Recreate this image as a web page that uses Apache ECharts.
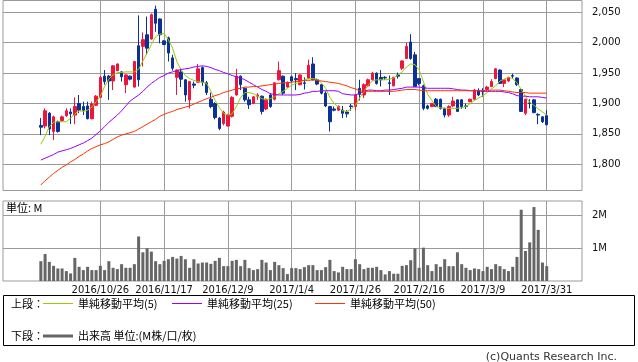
<!DOCTYPE html>
<html><head><meta charset="utf-8">
<script src="https://cdn.jsdelivr.net/npm/echarts@6/dist/echarts.min.js"></script>
<style>html,body{margin:0;padding:0;background:#fff}#c{width:638px;height:362px}</style>
</head><body><div id="c"></div>
<script>
const dates = [
'2016/10/5','2016/10/6','2016/10/7','2016/10/11','2016/10/12','2016/10/13','2016/10/14','2016/10/17','2016/10/18','2016/10/19','2016/10/20','2016/10/21','2016/10/24','2016/10/25','2016/10/26','2016/10/27','2016/10/28','2016/10/31',
'2016/11/1','2016/11/2','2016/11/4','2016/11/7','2016/11/8','2016/11/9','2016/11/10','2016/11/11','2016/11/14','2016/11/15','2016/11/16','2016/11/17','2016/11/18','2016/11/21','2016/11/22','2016/11/24','2016/11/25','2016/11/28','2016/11/29','2016/11/30',
'2016/12/1','2016/12/2','2016/12/5','2016/12/6','2016/12/7','2016/12/8','2016/12/9','2016/12/12','2016/12/13','2016/12/14','2016/12/15','2016/12/16','2016/12/19','2016/12/20','2016/12/21','2016/12/22','2016/12/26','2016/12/27','2016/12/28','2016/12/29','2016/12/30',
'2017/1/4','2017/1/5','2017/1/6','2017/1/10','2017/1/11','2017/1/12','2017/1/13','2017/1/16','2017/1/17','2017/1/18','2017/1/19','2017/1/20','2017/1/23','2017/1/24','2017/1/25','2017/1/26','2017/1/27','2017/1/30','2017/1/31',
'2017/2/1','2017/2/2','2017/2/3','2017/2/6','2017/2/7','2017/2/8','2017/2/9','2017/2/10','2017/2/13','2017/2/14','2017/2/15','2017/2/16','2017/2/17','2017/2/20','2017/2/21','2017/2/22','2017/2/23','2017/2/24','2017/2/27','2017/2/28',
'2017/3/1','2017/3/2','2017/3/3','2017/3/6','2017/3/7','2017/3/8','2017/3/9','2017/3/10','2017/3/13','2017/3/14','2017/3/15','2017/3/16','2017/3/17','2017/3/21','2017/3/22','2017/3/23','2017/3/24','2017/3/27','2017/3/28','2017/3/29','2017/3/30','2017/3/31'];

const opens = [1864,1863,1884,1854,1870,1872,1880,1886,1881,1900,1895,1896,1875,1897,1910,1945,1945,1937,1954,1952,
1931,1945,1927,1995,1994,2013,2006,2055,2039,2003,2008,1975,1943,1952,1939,1906,1932,1935,1959,1934,
1907,1900,1876,1867,1863,1879,1914,1945,1925,1906,1900,1912,1912,1891,1914,1907,1939,1945,1927,1944,
1941,1931,1934,1941,1965,1939,1931,1917,1895,1891,1889,1889,1886,1896,1895,1925,1914,1929,1939,1950,
1943,1943,1934,1929,1947,1958,1974,2001,1980,1941,1929,1896,1895,1907,1907,1892,1881,1896,1906,1906,
1896,1903,1907,1921,1921,1923,1928,1941,1955,1933,1937,1946,1942,1923,1884,1901,1906,1882,1878,1880];
const highs = [1876,1892,1886,1880,1872,1880,1892,1892,1910,1914,1903,1903,1903,1914,1945,1955,1947,1963,1966,1953,
1948,1946,1970,2045,2017,2043,2048,2061,2040,2004,2010,1980,1956,1958,1940,1937,1936,1965,1961,1937,
1918,1902,1878,1888,1883,1912,1957,1946,1926,1911,1912,1917,1913,1908,1917,1935,1969,1946,1936,1946,
1950,1948,1943,1972,1976,1941,1932,1920,1896,1895,1897,1896,1889,1899,1915,1939,1933,1941,1952,1951,
1955,1945,1946,1944,1951,1971,2000,2014,1985,1942,1931,1898,1901,1909,1908,1893,1897,1911,1907,1907,
1900,1908,1924,1925,1925,1929,1940,1958,1956,1940,1944,1949,1943,1925,1908,1907,1907,1884,1879,1889];
const lows = [1848,1859,1848,1840,1852,1870,1878,1866,1866,1884,1881,1874,1874,1896,1909,1931,1906,1922,1953,1936,
1917,1938,1926,1928,1961,1980,2005,2018,1999,1996,1969,1954,1914,1927,1903,1892,1925,1934,1929,1914,
1892,1874,1856,1864,1862,1877,1913,1922,1903,1891,1899,1906,1882,1889,1893,1905,1938,1914,1926,1936,
1922,1930,1923,1940,1938,1930,1915,1894,1854,1887,1888,1876,1877,1888,1889,1905,1909,1927,1938,1931,
1928,1939,1914,1928,1941,1955,1973,1972,1927,1930,1889,1890,1894,1894,1890,1877,1878,1894,1886,1891,
1891,1902,1905,1912,1911,1921,1927,1940,1932,1927,1935,1941,1929,1886,1881,1892,1884,1866,1868,1864];
const closes = [1861,1888,1858,1878,1854,1878,1888,1883,1895,1889,1889,1875,1899,1912,1943,1936,1937,1962,1965,1944,
1947,1940,1969,1939,2005,1991,2046,2032,2013,1997,1983,1958,1955,1940,1914,1936,1930,1957,1935,1918,
1895,1877,1859,1886,1881,1910,1945,1931,1906,1898,1911,1914,1887,1907,1895,1934,1954,1917,1935,1937,
1939,1947,1933,1963,1939,1932,1917,1896,1870,1889,1895,1884,1883,1895,1914,1915,1931,1939,1950,1933,
1939,1942,1933,1943,1945,1970,1994,1974,1928,1933,1892,1892,1900,1895,1892,1881,1895,1904,1887,1895,
1895,1907,1922,1914,1920,1927,1936,1957,1933,1939,1943,1945,1931,1887,1907,1900,1885,1881,1870,1865];
const volumes = [0.60,0.82,0.58,0.46,0.38,0.38,0.30,0.23,0.70,0.43,0.33,0.43,0.33,0.33,0.46,0.33,0.60,0.40,0.36,0.51,
0.40,0.40,0.51,1.35,0.87,0.99,0.89,0.60,0.51,0.61,0.66,0.73,0.68,0.76,0.66,0.40,0.66,0.53,0.56,0.56,
0.52,0.61,0.70,0.45,0.45,0.61,0.64,0.45,0.64,0.39,0.33,0.36,0.64,0.56,0.33,0.58,0.48,0.39,0.21,0.39,
0.39,0.36,0.42,0.48,0.48,0.33,0.33,0.42,0.64,0.30,0.26,0.43,0.36,0.36,0.66,0.51,0.36,0.40,0.40,0.43,
0.33,0.20,0.30,0.22,0.22,0.46,0.48,0.63,0.99,0.40,1.01,0.48,0.30,0.51,0.43,0.66,0.45,0.45,0.87,0.51,
0.40,0.33,0.38,0.36,0.30,0.43,0.36,0.51,0.45,0.36,0.30,0.43,0.73,2.16,0.91,1.17,2.24,1.55,0.56,0.45];
const ma5 = [1833,1846,1862,1869,1870,1870,1870,1876,1883,1888,1887,1889,1894,1903,1912,1928,1940,1947,1951,1951,
1952,1952,1952,1956,1970,1983,1997,2010,2014,2015,2005,1991,1969,1955,1946,1941,1938,1936,1935,1933,
1920,1905,1893,1884,1881,1883,1895,1910,1918,1918,1916,1912,1908,1906,1908,1911,1916,1920,1925,1930,
1933,1935,1939,1941,1941,1940,1934,1925,1910,1900,1894,1888,1887,1891,1897,1909,1920,1930,1937,1939,
1939,1939,1940,1942,1947,1952,1960,1965,1964,1955,1936,1915,1905,1895,1893,1892,1892,1892,1892,1893,
1895,1900,1905,1909,1913,1918,1924,1929,1937,1940,1943,1941,1934,1923,1912,1902,1897,1891,1886,1881];
const ma25 = [1807,1810,1813,1816,1820,1822,1824,1826,1829,1832,1835,1839,1843,1849,1855,1862,1869,1875,1881,1888,
1896,1904,1909,1914,1920,1927,1933,1938,1943,1946,1950,1952,1954,1956,1957,1958,1960,1961,1962,1961,
1959,1956,1954,1951,1949,1946,1944,1942,1939,1935,1931,1927,1923,1920,1916,1915,1914,1914,1914,1914,
1914,1915,1917,1918,1920,1920,1921,1921,1921,1921,1920,1916,1915,1914,1914,1917,1920,1922,1922,1921,
1921,1922,1922,1923,1924,1925,1927,1927,1927,1927,1926,1925,1925,1925,1925,1925,1925,1924,1923,1922,
1922,1921,1921,1921,1920,1920,1920,1920,1920,1919,1918,1916,1913,1912,1912,1911,1911,1911,1910,1909];
const ma50 = [1766,1773,1779,1785,1790,1795,1799,1804,1808,1813,1817,1822,1826,1829,1832,1834,1837,1841,1845,1848,
1850,1852,1854,1858,1862,1866,1870,1874,1879,1882,1885,1887,1890,1892,1894,1896,1899,1902,1905,1908,
1910,1913,1915,1918,1920,1922,1924,1925,1927,1927,1928,1928,1929,1930,1931,1932,1933,1934,1934,1935,
1936,1937,1938,1938,1939,1938,1937,1936,1935,1934,1933,1931,1929,1926,1924,1921,1920,1920,1920,1920,
1920,1920,1920,1920,1921,1922,1923,1923,1923,1922,1921,1921,1921,1921,1921,1921,1921,1921,1921,1921,
1921,1921,1921,1921,1921,1921,1922,1922,1922,1921,1920,1919,1918,1918,1918,1917,1917,1917,1917,1917];
const dateTicks = ['2016/10/26','2016/11/17','2016/12/9','2017/1/4','2017/1/26','2017/2/16','2017/3/9','2017/3/31'];
const priceTicks = [1800,1850,1900,1950,2000,2050];
const volumeTicks = [1,2];

const tickIdx = dateTicks.map(d => dates.indexOf(d));
const idx = dates.map((d, i) => i);
const fmt = v => String(v).replace(/\B(?=(\d{3})+(?!\d))/g, ',');

const GRID_C = '#9a9a9a';
const xMin = -8.9, xMax = 127.3;
const ff = 'DejaVu Sans';
const cjk = '"Noto Sans CJK JP", sans-serif';

function xAxisDef(gridIndex, showLabel) {
  return {
    type: 'value', gridIndex, min: xMin, max: xMax,
    axisLine: {show: false},
    axisTick: {show: false, customValues: tickIdx},
    splitLine: {show: true, lineStyle: {color: GRID_C, width: 1}},
    axisLabel: {show: showLabel, customValues: tickIdx, formatter: v => dates[Math.round(v)] || '',
      color: '#111', fontSize: 10, fontFamily: ff, margin: 4}
  };
}

const chart = echarts.init(document.getElementById('c'), null, {renderer: 'canvas'});
chart.setOption({
  animation: false,
  backgroundColor: '#fff',
  grid: [
    {left: 3, top: 0.5, width: 579, height: 190, show: true, borderColor: GRID_C, borderWidth: 1, backgroundColor: 'transparent'},
    {left: 3, top: 201, width: 579, height: 80, show: true, borderColor: GRID_C, borderWidth: 1, backgroundColor: 'transparent'}
  ],
  xAxis: [xAxisDef(0, false), xAxisDef(1, true)],
  yAxis: [
    {type: 'value', gridIndex: 0, position: 'right', min: 1756.9, max: 2069.4,
      axisLine: {show: false},
      axisTick: {show: true, length: 5, customValues: priceTicks, lineStyle: {color: GRID_C}},
      splitLine: {show: true, lineStyle: {color: GRID_C}},
      axisLabel: {customValues: priceTicks, formatter: v => fmt(v), color: '#111', fontSize: 10, fontFamily: ff, margin: 10}},
    {type: 'value', gridIndex: 1, position: 'right', min: 0, max: 2.424,
      axisLine: {show: false},
      axisTick: {show: true, length: 5, customValues: volumeTicks, lineStyle: {color: GRID_C}},
      splitLine: {show: true, lineStyle: {color: GRID_C}},
      axisLabel: {customValues: volumeTicks, formatter: v => v + 'M', color: '#111', fontSize: 10, fontFamily: ff, margin: 10}}
  ],
  series: [
    {type: 'candlestick', xAxisIndex: 0, yAxisIndex: 0, barWidth: 3,
      data: idx.map(i => [i, opens[i], closes[i], lows[i], highs[i]]),
      encode: {x: 0, y: [1, 2, 3, 4]},
      itemStyle: {color: '#f0143c', borderColor: '#f0143c', color0: '#0a3296', borderColor0: '#0a3296', borderWidth: 1}},
    {type: 'line', xAxisIndex: 0, yAxisIndex: 0, data: idx.map(i => [i, ma5[i]]), showSymbol: false,
      lineStyle: {color: '#99cc00', width: 1}, z: 3},
    {type: 'line', xAxisIndex: 0, yAxisIndex: 0, data: idx.map(i => [i, ma25[i]]), showSymbol: false,
      lineStyle: {color: '#9900ff', width: 1}, z: 3},
    {type: 'line', xAxisIndex: 0, yAxisIndex: 0, data: idx.map(i => [i, ma50[i]]), showSymbol: false,
      lineStyle: {color: '#ff3300', width: 1}, z: 3},
    {type: 'bar', xAxisIndex: 1, yAxisIndex: 1, barWidth: 3, data: idx.map(i => [i, volumes[i]]),
      itemStyle: {color: '#666666'}}
  ],
  graphic: [
    {type: 'text', left: 6, top: 202, style: {text: '単位: M', font: '11px ' + cjk, fill: '#000'}},
    {type: 'rect', shape: {x: 3.5, y: 295.5, width: 631, height: 50}, style: {fill: 'none', stroke: '#000', lineWidth: 1}},
    {type: 'text', x: 11, y: 304, style: {text: '上段：', font: '11px ' + cjk, fill: '#000', verticalAlign: 'middle'}},
    {type: 'line', shape: {x1: 43, y1: 303.5, x2: 73, y2: 303.5}, style: {stroke: '#99cc00', lineWidth: 1}},
    {type: 'text', x: 78, y: 304, style: {text: '単純移動平均(5)', font: '11px ' + cjk, fill: '#000', verticalAlign: 'middle'}},
    {type: 'line', shape: {x1: 172, y1: 303.5, x2: 202, y2: 303.5}, style: {stroke: '#9900ff', lineWidth: 1}},
    {type: 'text', x: 207, y: 304, style: {text: '単純移動平均(25)', font: '11px ' + cjk, fill: '#000', verticalAlign: 'middle'}},
    {type: 'line', shape: {x1: 315, y1: 303.5, x2: 345, y2: 303.5}, style: {stroke: '#ff3300', lineWidth: 1}},
    {type: 'text', x: 350, y: 304, style: {text: '単純移動平均(50)', font: '11px ' + cjk, fill: '#000', verticalAlign: 'middle'}},
    {type: 'text', x: 11, y: 336, style: {text: '下段：', font: '11px ' + cjk, fill: '#000', verticalAlign: 'middle'}},
    {type: 'line', shape: {x1: 43, y1: 336, x2: 73, y2: 336}, style: {stroke: '#666666', lineWidth: 3}},
    {type: 'text', x: 78, y: 336, style: {text: '出来高 単位:(M株/口/枚)', font: '11px ' + cjk, fill: '#000', verticalAlign: 'middle'}},
    {type: 'text', x: 617, y: 357, style: {text: '(c)Quants Research Inc.', font: '11px ' + ff, fill: '#333', align: 'right', verticalAlign: 'middle'}}
  ]
});
</script></body></html>
